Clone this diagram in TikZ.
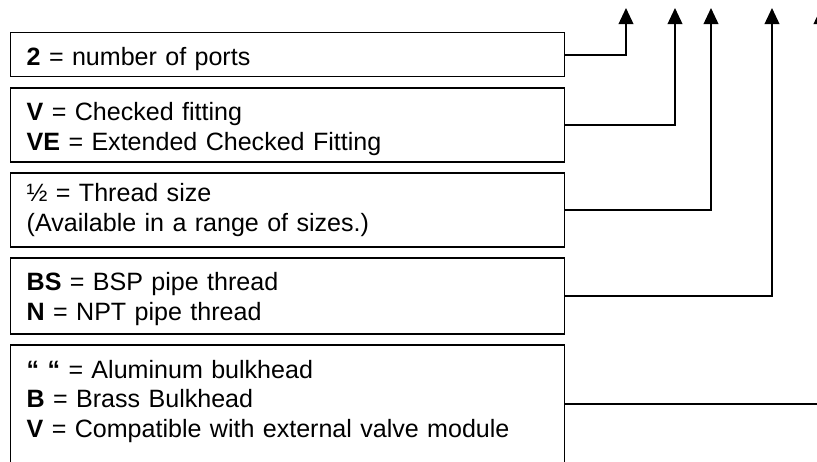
\documentclass[tikz,border=0pt]{standalone}
\usepackage{fontspec}
\setmainfont{Liberation Sans}
\usetikzlibrary{arrows.meta,positioning}

\begin{document}
\begin{tikzpicture}[font=\fontsize{18.8pt}{22.2pt}\selectfont, node distance=7.2pt,
      keybox/.style={rectangle, draw=black, line width=1.1pt, inner xsep=12pt, inner ysep=0pt,
                     text width=391.5pt, align=left},
      lead/.style={draw=black, line width=1.2pt, -{Triangle[width=11pt,length=12pt]}}]
    \useasboundingbox (0,0) rectangle (612.75pt,-345.75pt);
    % code boxes, top to bottom
    \node[keybox, anchor=north west, text height=24.75pt, text depth=8.25pt] (ports) at (7.5pt,-24pt)
      {\textbf{2} = number of ports};
    \node[keybox, below=of ports, text height=24.75pt, text depth=30.75pt] (check)
      {\textbf{V} = Checked fitting\\\textbf{VE} = Extended Checked Fitting};
    \node[keybox, below=of check, text height=21.75pt, text depth=33.75pt] (size)
      {½ = Thread size\\(Available in a range of sizes.)};
    \node[keybox, below=of size, text height=24.4pt, text depth=32.6pt] (thread)
      {\textbf{BS} = BSP pipe thread\\\textbf{N} = NPT pipe thread};
    \node[keybox, below=of thread, text height=24.75pt, text depth=63.75pt] (body)
      {\textbf{“ “} = Aluminum bulkhead\\\textbf{B} = Brass Bulkhead\\\textbf{V} = Compatible with external valve module};
    % arrow ends along the top
    \coordinate (up1) at (469.5pt,-6pt);
    \coordinate (up2) at (506.25pt,-6pt);
    \coordinate (up3) at (533.25pt,-6pt);
    \coordinate (up4) at (579pt,-6pt);
    \coordinate (up5) at (615.75pt,-6pt);
    \draw[lead] (ports.east) -| (up1);
    \draw[lead] (check.east) -| (up2);
    \draw[lead] (size.east) -| (up3);
    \draw[lead] (thread.east) -| (up4);
    \draw[lead] (body.east) -| (up5);
  \end{tikzpicture}
\end{document}
